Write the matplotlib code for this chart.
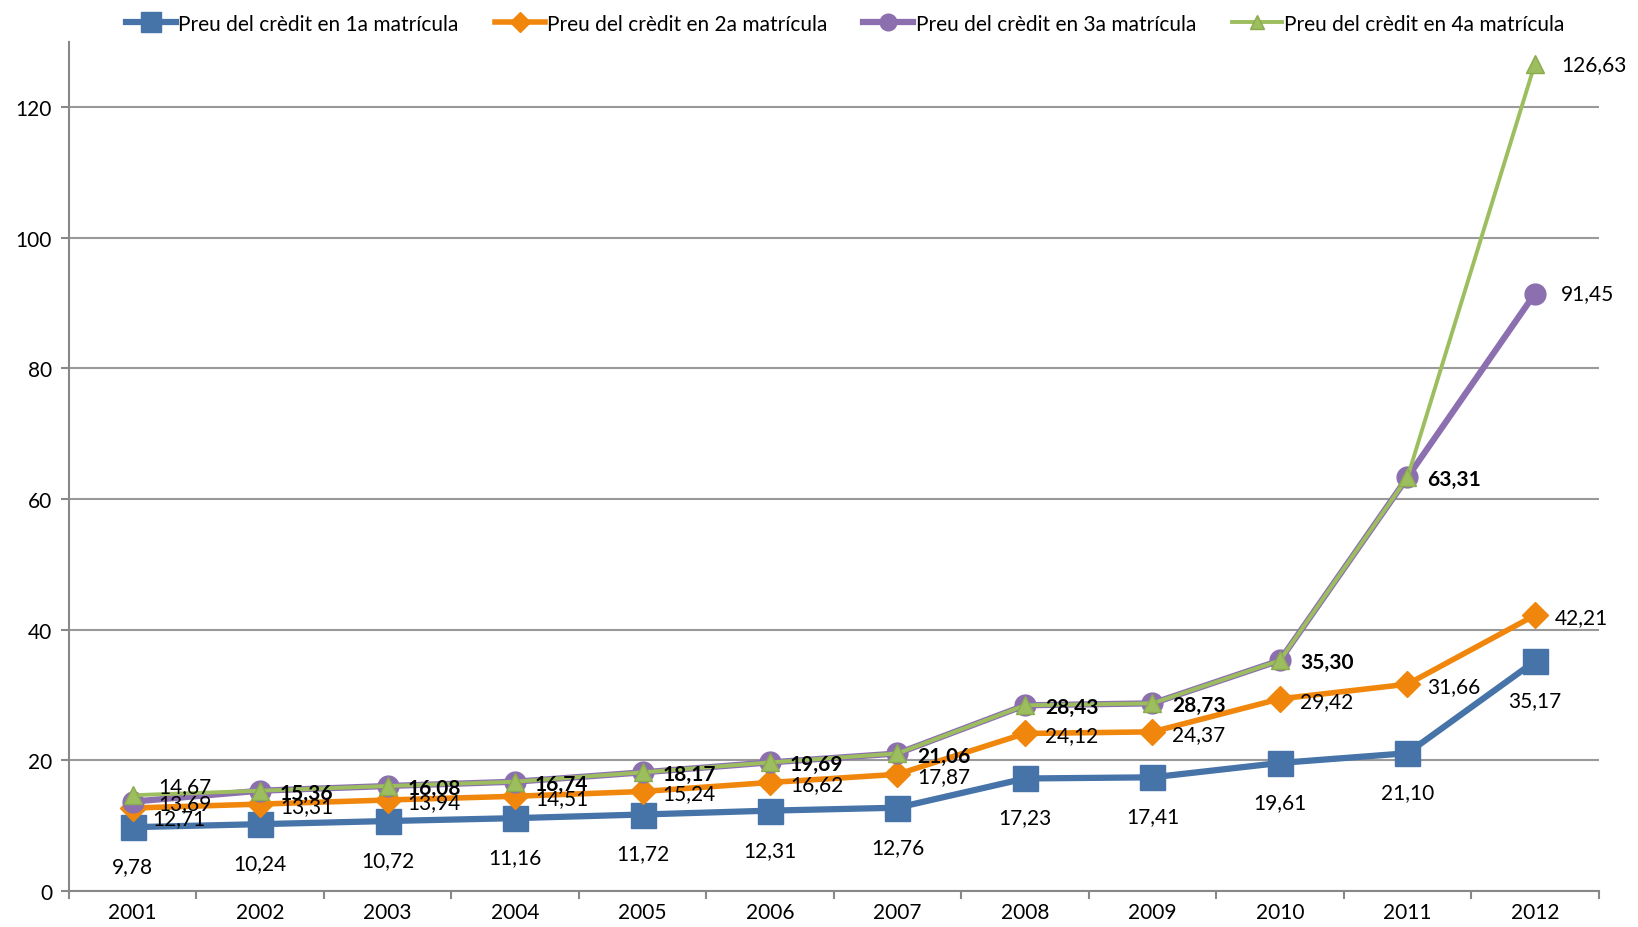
import matplotlib
matplotlib.use("Agg")
import matplotlib.pyplot as plt
import numpy as np

years = ["2001", "2002", "2003", "2004", "2005", "2006", "2007", "2008", "2009", "2010", "2011", "2012"]
preu_1a = [9.78, 10.24, 10.72, 11.16, 11.72, 12.31, 12.76, 17.23, 17.41, 19.61, 21.10, 35.17]
preu_2a = [12.71, 13.31, 13.94, 14.51, 15.24, 16.62, 17.87, 24.12, 24.37, 29.42, 31.66, 42.21]
preu_3a = [13.69, 15.36, 16.08, 16.74, 18.17, 19.69, 21.06, 28.43, 28.73, 35.30, 63.31, 91.45]
preu_4a = [14.67, 15.36, 16.08, 16.74, 18.17, 19.69, 21.06, 28.43, 28.73, 35.30, 63.31, 126.63]
names = ["Preu del crèdit en 1a matrícula", "Preu del crèdit en 2a matrícula",
         "Preu del crèdit en 3a matrícula", "Preu del crèdit en 4a matrícula"]

plt.rcParams['font.family'] = ['Lato', 'DejaVu Sans']

fig = plt.figure(figsize=(16.38, 9.28), dpi=100)
ax = fig.add_axes([0.042, 0.0387, 0.934, 0.9154])

x = np.arange(len(years))

def fmt(v):
    return f"{v:.2f}".replace(".", ",")

c1, c2, c3, c4 = "#4673A8", "#F0870C", "#8C6FAF", "#9DBE5E"

l1, = ax.plot(x, preu_1a, color=c1, lw=4.5, marker="s", ms=18, mfc=c1, mec=c1, zorder=3, label=names[0])
l2, = ax.plot(x, preu_2a, color=c2, lw=4, marker="D", ms=13, mfc=c2, mec=c2, zorder=4, label=names[1])
l3, = ax.plot(x, preu_3a, color=c3, lw=4.5, marker="o", ms=15, mfc=c3, mec=c3, zorder=5, label=names[2])
l4, = ax.plot(x, preu_4a, color=c4, lw=2.8, marker="^", ms=13, mfc=c4, mec="#8BAA4E", zorder=6, label=names[3])

fs = 15
# labels blue: below
for i, v in enumerate(preu_1a):
    ax.annotate(fmt(v), (x[i], v), xytext=(0, -39), textcoords="offset pixels",
                ha="center", va="center", fontsize=fs, zorder=10)
# orange: right
for i, v in enumerate(preu_2a):
    dy = -10 if i == 0 else -2
    ax.annotate(fmt(v), (x[i], v), xytext=(20, dy), textcoords="offset pixels",
                ha="left", va="center", fontsize=fs, zorder=10)
# purple/green
for i in range(len(years)):
    v3, v4 = preu_3a[i], preu_4a[i]
    if v3 == v4:
        ax.annotate(fmt(v3), (x[i], v3), xytext=(20, -2), textcoords="offset pixels",
                    ha="left", va="center", fontsize=fs, fontweight="bold", zorder=10)
    else:
        d3 = -1 if i == 0 else 0
        ax.annotate(fmt(v3), (x[i], v3), xytext=(26, d3), textcoords="offset pixels",
                    ha="left", va="center", fontsize=fs, zorder=10)
        d4 = 9 if i == 0 else 0
        ax.annotate(fmt(v4), (x[i], v4), xytext=(26, d4), textcoords="offset pixels",
                    ha="left", va="center", fontsize=fs, zorder=10)

ax.set_xlim(-0.5, len(years) - 0.5)
ax.set_ylim(0, 130)
ax.set_yticks(np.arange(0, 121, 20))
ax.set_xticks(x)
ax.set_xticklabels(years, fontsize=fs)
ax.tick_params(axis="x", which="major", length=0, pad=8)
ax.set_xticks(np.arange(-0.5, len(years), 1), minor=True)
ax.tick_params(axis="x", which="minor", length=6, width=1.5, color="#888888", direction="out")
ax.tick_params(axis="y", labelsize=fs, length=6, width=1.5, color="#888888", direction="out", pad=6)
ax.yaxis.grid(True, color="#999999", lw=1.5)
ax.set_axisbelow(True)
for s in ["top", "right"]:
    ax.spines[s].set_visible(False)
for s in ["left", "bottom"]:
    ax.spines[s].set_color("#888888")
    ax.spines[s].set_linewidth(1.5)

fig.legend(handles=[l1, l2, l3, l4], loc="center", bbox_to_anchor=(0.516, 0.9735), ncol=4,
           frameon=False, fontsize=fs, handlelength=2.4, handletextpad=0.1, columnspacing=1.75,
           markerscale=0.8)

fig.savefig("out.png", dpi=100)
